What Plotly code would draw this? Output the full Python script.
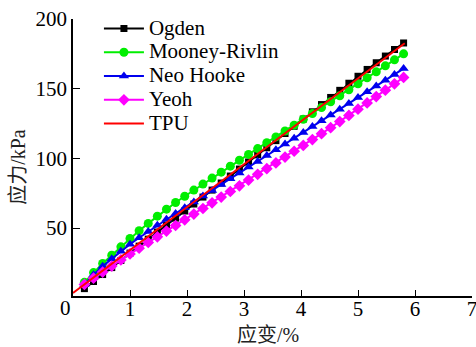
import plotly.graph_objects as go

strain = [0.20, 0.36, 0.52, 0.68, 0.84, 1.00, 1.16, 1.32, 1.48, 1.64, 1.80, 1.96,
          2.12, 2.28, 2.44, 2.60, 2.76, 2.92, 3.08, 3.24, 3.40, 3.56, 3.72, 3.88,
          4.04, 4.20, 4.36, 4.52, 4.68, 4.84, 5.00, 5.16, 5.32, 5.48, 5.64, 5.80]

ogden = [6.5, 11.6, 16.6, 21.6, 26.7, 32.0, 37.0, 42.0, 47.1, 52.1, 57.1, 62.2,
         67.2, 72.2, 77.2, 82.3, 87.3, 92.3, 97.4, 102.5, 107.6, 112.7, 117.8, 123.0,
         128.2, 133.4, 138.6, 143.7, 148.8, 153.9, 158.9, 163.8, 168.6, 173.4, 178.1, 182.8]

mooney = [11.0, 18.0, 24.5, 30.5, 36.5, 42.5, 48.0, 53.3, 58.5, 63.5, 68.3, 72.8,
          77.2, 81.5, 85.8, 90.1, 94.4, 98.6, 102.8, 107.0, 111.2, 115.4, 119.6, 123.8,
          128.0, 132.2, 136.4, 140.6, 144.9, 149.2, 153.5, 157.8, 162.1, 166.4, 170.7, 175.0]

neo = [9.5, 16.5, 22.5, 28.0, 33.3, 38.3, 43.0, 47.5, 51.9, 56.2, 60.4, 64.6,
       68.7, 72.9, 77.0, 81.2, 85.4, 89.5, 93.7, 97.8, 102.0, 106.2, 110.3, 114.5,
       118.6, 122.8, 127.0, 131.1, 135.3, 139.4, 143.6, 147.8, 151.9, 156.1, 160.2, 164.4]

yeoh = [9.5, 14.0, 18.4, 22.7, 27.1, 31.4, 35.5, 39.6, 43.7, 47.8, 51.8, 55.9,
        60.0, 64.0, 68.1, 72.2, 76.2, 80.3, 84.4, 88.5, 92.6, 96.7, 100.9, 105.1,
        109.3, 113.5, 117.7, 122.0, 126.4, 130.8, 135.3, 139.8, 144.3, 148.9, 153.5, 158.1]

tpu_strain = [0.0, 1.0, 2.0, 3.0, 4.0, 5.0, 5.82]
tpu = [3.3, 34.1, 64.9, 95.7, 126.5, 157.3, 182.6]

x_ticks = [1, 2, 3, 4, 5, 6, 7]
y_ticks = [50, 100, 150, 200]
names = ["Ogden", "Mooney-Rivlin", "Neo Hooke", "Yeoh", "TPU"]

LAT = "Liberation Serif"
CJK = "Liberation Serif, Noto Sans CJK SC"


def big(s):
    return "<span style='font-size:21px'>" + s + "</span>"


fig = go.Figure()
fig.add_trace(go.Scatter(x=strain, y=ogden, name=big(names[0]), mode="lines+markers",
                         line=dict(color="#000000", width=2),
                         marker=dict(symbol="square", size=7, color="#000000")))
fig.add_trace(go.Scatter(x=strain, y=mooney, name=big(names[1]), mode="lines+markers",
                         line=dict(color="#00ee00", width=2),
                         marker=dict(symbol="circle", size=9, color="#00ee00")))
fig.add_trace(go.Scatter(x=strain, y=neo, name=big(names[2]), mode="lines+markers",
                         line=dict(color="#0000ee", width=2),
                         marker=dict(symbol="triangle-up", size=9, color="#0000ee")))
fig.add_trace(go.Scatter(x=strain, y=yeoh, name=big(names[3]), mode="lines+markers",
                         line=dict(color="#ff00ff", width=2),
                         marker=dict(symbol="diamond", size=9, color="#ff00ff")))
fig.add_trace(go.Scatter(x=tpu_strain, y=tpu, name=big(names[4]), mode="lines",
                         line=dict(color="#ff0000", width=2)))

fig.update_layout(
    width=476, height=347,
    margin=dict(l=73, r=4, t=19, b=51, pad=0, autoexpand=False),
    paper_bgcolor="white", plot_bgcolor="white",
    font=dict(family=LAT, size=21, color="#000000"),
    showlegend=True,
    legend=dict(x=0.065, y=1.027, xanchor="left", yanchor="top",
                bgcolor="rgba(0,0,0,0)", font=dict(family=LAT, size=16, color="#000000"),
                itemwidth=40, tracegroupgap=0),
    xaxis=dict(range=[0, 7], tickvals=x_ticks, ticktext=[str(v) for v in x_ticks],
               showline=True, linecolor="#000000", linewidth=1.5, automargin=False,
               ticks="inside", ticklen=6, tickwidth=1, tickcolor="#000000",
               showgrid=False, zeroline=False, mirror=False,
               ticklabeloverflow="allow", ticklabelstandoff=-7,
               tickfont=dict(family=LAT, size=21)),
    yaxis=dict(range=[1.2, 200], tickvals=y_ticks, ticktext=[str(v) for v in y_ticks],
               showline=True, linecolor="#000000", linewidth=1.5, automargin=False,
               ticks="inside", ticklen=7, tickwidth=1, tickcolor="#000000",
               showgrid=False, zeroline=False, mirror=False,
               tickfont=dict(family=LAT, size=21)),
)

fig.add_annotation(text="0", xref="paper", yref="paper", x=-0.02, y=-0.043,
                   xanchor="center", yanchor="middle", showarrow=False,
                   font=dict(family=LAT, size=21))
fig.add_annotation(text="应变/%", xref="paper", yref="paper", x=0.489, y=-0.141,
                   xanchor="center", yanchor="middle", showarrow=False,
                   font=dict(family=CJK, size=20, color="#222222"))
fig.add_annotation(text="应力/kPa", xref="paper", yref="paper", x=-0.138, y=0.466,
                   xanchor="center", yanchor="middle", showarrow=False, textangle=-90,
                   font=dict(family=CJK, size=20, color="#222222"))

fig.write_html("out.html", config={"displayModeBar": False},
               post_script="document.body.style.margin='0px';document.body.style.padding='0px';")
